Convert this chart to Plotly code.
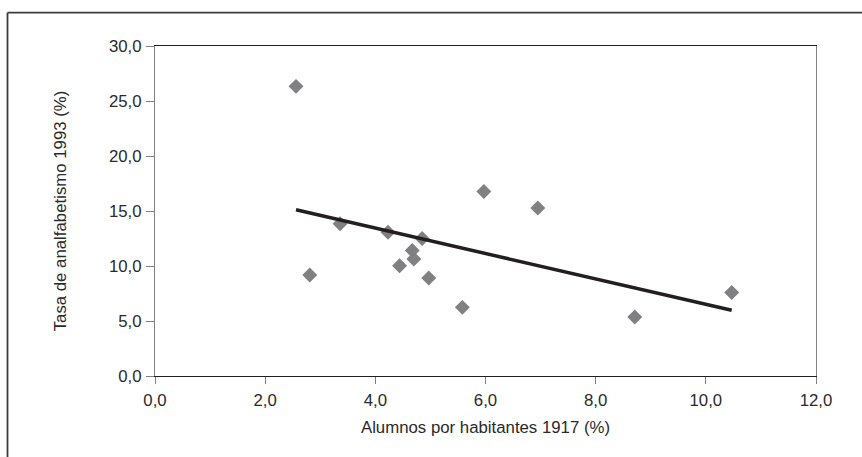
import numpy as np
import plotly.graph_objects as go

# Data
alumnos_1917 = [2.56, 2.81, 3.36, 4.23, 4.85, 4.67, 4.70, 4.44, 4.97, 5.58, 5.97, 6.95, 8.71, 10.47]
analfabetismo_1993 = [26.33, 9.18, 13.85, 13.06, 12.50, 11.42, 10.64, 10.03, 8.90, 6.24, 16.78, 15.27, 5.36, 7.60]

x_title = "Alumnos por habitantes 1917 (%)"
y_title = "Tasa de analfabetismo 1993 (%)"

# Linear trend line (least squares)
xs = np.array(alumnos_1917)
ys = np.array(analfabetismo_1993)
slope, intercept = np.polyfit(xs, ys, 1)
tx = np.array([xs.min(), xs.max()])
ty = slope * tx + intercept

W, H = 862, 457
ML, MR, MT, MB = 155, 46, 46, 81

FONT = "Liberation Sans, Arial, sans-serif"
TXT = "#2a2a2a"
FS = 16.8

fig = go.Figure()
fig.add_trace(go.Scatter(
    x=alumnos_1917, y=analfabetismo_1993, mode="markers",
    marker=dict(symbol="diamond", size=11.5, color="#808083", line=dict(width=0)),
    showlegend=False, hoverinfo="x+y"))
fig.add_trace(go.Scatter(
    x=tx, y=ty, mode="lines",
    line=dict(color="#231f20", width=3.5),
    showlegend=False, hoverinfo="skip"))

# outer frame (top and left lines), pixel -> paper conversion
pw = W - ML - MR
ph = H - MT - MB
def px_x(p):
    return (p - ML) / pw
def px_y(p):
    return (H - MB - p) / ph

frame_color = "#3c3c3c"
fig.add_shape(type="line", xref="paper", yref="paper",
              x0=px_x(7.5), x1=px_x(870), y0=px_y(12.7), y1=px_y(12.7),
              line=dict(color=frame_color, width=1.8))
fig.add_shape(type="line", xref="paper", yref="paper",
              x0=px_x(7.5), x1=px_x(7.5), y0=px_y(12.7), y1=px_y(470),
              line=dict(color=frame_color, width=1.8))

fig.update_layout(
    width=W, height=H,
    margin=dict(l=ML, r=MR, t=MT, b=MB),
    paper_bgcolor="white", plot_bgcolor="white",
    separators=",.",
    font=dict(family=FONT, size=FS, color=TXT),
    xaxis=dict(
        range=[0, 12], tickvals=[0, 2, 4, 6, 8, 10, 12], tickformat=".1f",
        showgrid=False, zeroline=False,
        showline=True, linecolor="#231f20", linewidth=1, mirror=True,
        ticks="outside", ticklen=7, tickcolor="#808080", tickwidth=1,
        ticklabelstandoff=2,
        title=dict(text=x_title, standoff=12, font=dict(size=FS, color=TXT)),
        tickfont=dict(size=FS, color=TXT),
    ),
    yaxis=dict(
        range=[0, 30], tickvals=[0, 5, 10, 15, 20, 25, 30], tickformat=".1f",
        showgrid=False, zeroline=False,
        showline=True, linecolor="#808080", linewidth=1, mirror=True,
        ticks="outside", ticklen=8, tickcolor="#808080", tickwidth=1,
        ticklabelstandoff=1,
        title=dict(text=y_title, standoff=38, font=dict(size=FS, color=TXT)),
        tickfont=dict(size=FS, color=TXT),
    ),
)

fig.write_html("out.html", config={"displayModeBar": False},
               post_script="document.body.style.margin='0';document.body.style.overflow='hidden';")
